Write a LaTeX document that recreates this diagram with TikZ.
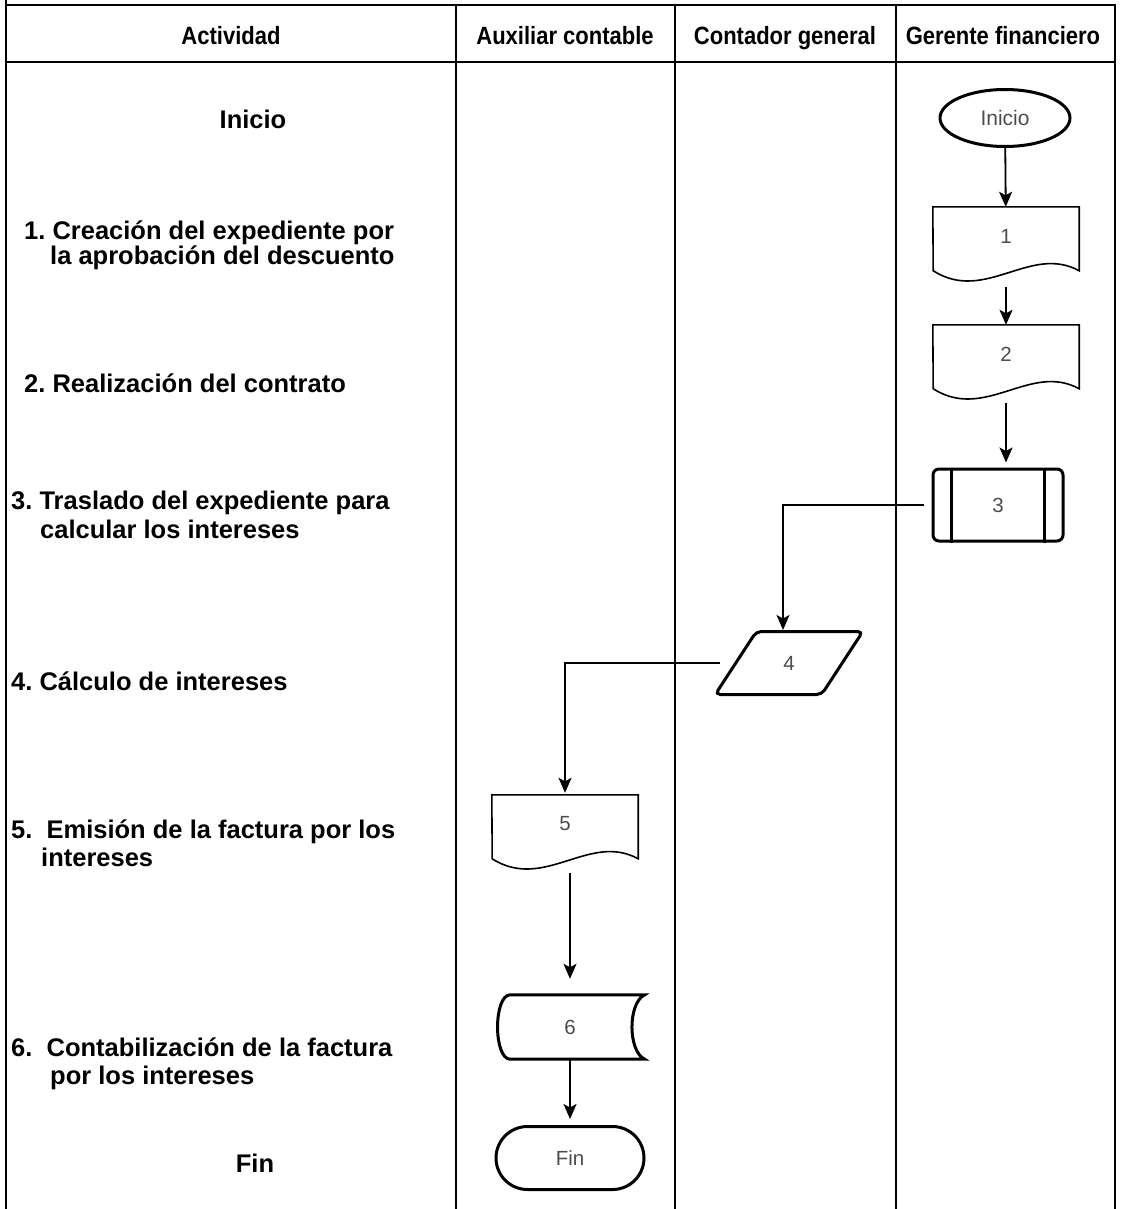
\documentclass[tikz,border=0pt]{standalone}
\usepackage{fontspec}
\setmainfont{Liberation Sans}
\usetikzlibrary{shapes.geometric,shapes.misc,arrows.meta}

% stored-data symbol: convex left side, concave right side
\newcommand\storedpath[1]{%
  \draw[thickline] ([xshift=15pt]#1.north west) -- (#1.north east)
    .. controls +(-17,8) and +(-17,-8) .. (#1.south east)
    -- ([xshift=15pt]#1.south west)
    .. controls +(-17,0) and +(-17,0) .. cycle;}
% document symbol with a wavy lower edge
\newcommand\docpath[1]{%
  \draw[thinline] (#1.north west) -- (#1.north east) -- ++(0,64)
    .. controls +(-49,-27) and +(52,33) .. ++(-146,0) -- cycle;}
% narrow bold heading text
\newcommand\headtext[1]{\scalebox{0.88}[1]{\bfseries #1}}

\begin{document}
\frenchspacing
\begin{tikzpicture}[x=1pt,y=-1pt,
  gridline/.style={line width=2pt,black},
  thinline/.style={line width=1.6pt,black},
  thickline/.style={line width=3pt,black},
  arr/.style={line width=1.8pt,-{Stealth[length=15pt,width=13pt,inset=3.5pt]}},
  lab/.style={anchor=base west,inner sep=0,font=\bfseries\fontsize{25.5}{30}\selectfont},
  labc/.style={lab,anchor=base},
  head/.style={anchor=base,inner sep=0,font=\fontsize{25}{30}\selectfont},
  txt/.style={text=black!70,font=\fontsize{20.5}{24}\selectfont},
  docbox/.style={rectangle,inner sep=0,minimum width=146pt,minimum height=58pt,txt},
]
\useasboundingbox (0,0) rectangle (1120,1209);

% table frame
\draw[gridline] (6,0) -- (6,1209);
\draw[gridline] (1115,5) -- (1115,1209);
\draw[gridline] (5,5) -- (1116,5);
\draw[gridline] (5,62) -- (1116,62);
\draw[gridline] (456,5) -- (456,1209);
\draw[gridline] (675,5) -- (675,1209);
\draw[gridline] (896,5) -- (896,1209);

% column headings
\node[head] (hA) at (231,45) {\headtext{Actividad}};
\node[head] (hB) at (565,45) {\headtext{Auxiliar contable}};
\node[head] (hC) at (785,45) {\headtext{Contador general}};
\node[head] (hD) at (1003,45) {\headtext{Gerente financiero}};

% activity descriptions
\node[labc] (a0) at (253,129) {Inicio};
\node[lab] (a1) at (24,239) {1. Creación del expediente por};
\node[lab] (a1b) at (50,264) {la aprobación del descuento};
\node[lab] (a2) at (24,392) {2. Realización del contrato};
\node[lab] (a3) at (11,509) {3. Traslado del expediente para};
\node[lab] (a3b) at (40,538) {calcular los intereses};
\node[lab] (a4) at (11,690) {4. Cálculo de intereses};
\node[lab] (a5) at (11,838) {5.\ \ Emisión de la factura por los};
\node[lab] (a5b) at (41,866) {intereses};
\node[lab] (a6) at (11,1056) {6.\ \ Contabilización de la factura};
\node[lab] (a6b) at (50,1084) {por los intereses};
\node[labc] (a7) at (255,1172) {Fin};

% flow symbols
\node[ellipse,thickline,draw,minimum width=130pt,minimum height=57pt,inner sep=0,txt,
      font=\fontsize{21}{24}\selectfont] (ini) at (1005,118) {Inicio};
\node[docbox] (d1) at (1006,236) {1};
\docpath{d1}
\node[docbox] (d2) at (1006,354) {2};
\docpath{d2}
\node[rectangle,draw,thickline,rounded corners=6pt,minimum width=130pt,minimum height=72pt,
      inner sep=0,txt] (p3) at (998,505) {3};
\draw[thickline] ([xshift=20pt]p3.north west) -- ([xshift=20pt]p3.south west);
\draw[thickline] ([xshift=-20pt]p3.north east) -- ([xshift=-20pt]p3.south east);
\node[trapezium,draw,thickline,rounded corners=5pt,trapezium left angle=63,
      trapezium right angle=117,trapezium stretches=true,minimum width=148pt,
      minimum height=63pt,inner sep=0,txt] (p4) at (789,663) {4};
\node[docbox] (d5) at (565,824) {5};
\docpath{d5}
\node[rectangle,inner sep=0,minimum width=149pt,minimum height=64pt,txt] (s6) at (570,1027) {6};
\storedpath{s6}
\node[rounded rectangle,draw,thickline,minimum width=148pt,minimum height=63pt,inner sep=0,
      txt] (fin) at (570,1158) {Fin};

% connectors
\draw[arr] (ini) -- (d1);
\draw[arr] ([yshift=-22pt]d1.south) -- (d2.north);
\draw[arr,shorten >=5pt] ([yshift=-20pt]d2.south) -- (d2.south |- p3.north);
\draw[arr] ([xshift=-8pt]p3.west) -| ([xshift=-6pt]p4.north);
\draw[arr,shorten >=2pt] ([xshift=-14pt]p4.west) -| (d5.north);
\draw[arr,shorten >=16pt] ([yshift=-20pt]d5.south -| s6.north) -- (s6.north);
\draw[arr,shorten >=6pt] (s6) -- (fin);
\end{tikzpicture}
\end{document}
